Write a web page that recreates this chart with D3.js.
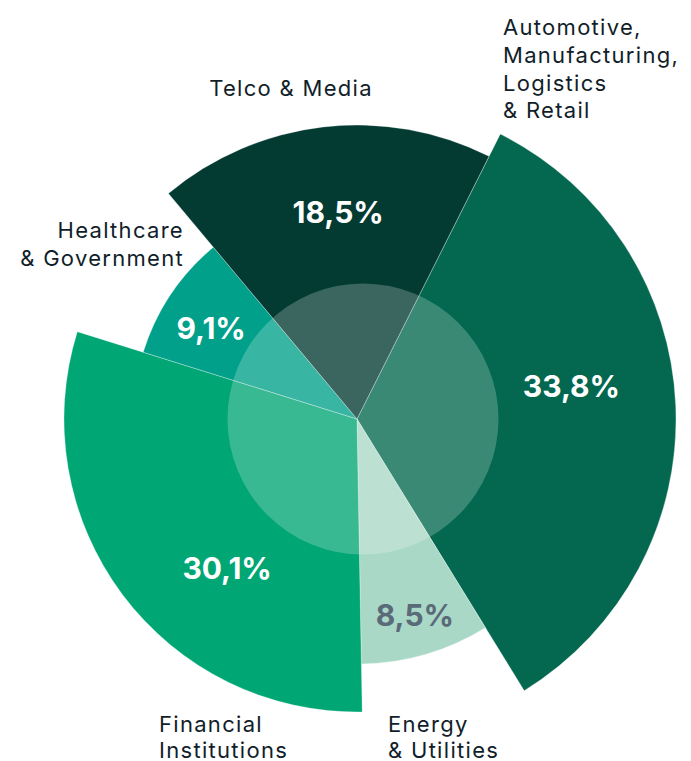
<!DOCTYPE html>
<html>
<head>
<meta charset="utf-8">
<script src="https://cdn.jsdelivr.net/npm/d3@7"></script>
<style>
  html, body { margin: 0; padding: 0; background: #ffffff; }
  svg { display: block; }
</style>
</head>
<body>
<svg id="chart" width="691" height="761"></svg>
<script>
// ---- data ----
const categories = ["Automotive, Manufacturing, Logistics & Retail", "Energy & Utilities", "Financial Institutions", "Healthcare & Government", "Telco & Media"];
const shares = [33.8, 8.5, 30.1, 9.1, 18.5];
const valueLabels = ["33,8%", "8,5%", "30,1%", "9,1%", "18,5%"];
const categoryLines = [
  ["Automotive,", "Manufacturing,", "Logistics", "& Retail"],
  ["Energy", "& Utilities"],
  ["Financial", "Institutions"],
  ["Healthcare", "& Government"],
  ["Telco & Media"]
];

// ---- styling / layout ----
const colors = ["#03684f", "#a9d8c6", "#00a673", "#00a08a", "#033b32"];
const valueColors = ["#ffffff", "#5a6a78", "#ffffff", "#ffffff", "#ffffff"];
const outerR = [319, 245, 293, 224, 294];
const cx = 357, cy = 419;
const startDeg = 26.7;
// value label placement: [angle deg from north, radius]
const valuePos = [[81.2, 217], [163.6, 205], [221, 198], [302, 172], [354.8, 208]];
// category label placement: [x, y of first baseline, anchor, line height]
const catPos = [[503, 35, "start", 27.8], [388, 732, "start", 25.5], [159, 732, "start", 25.5], [184, 238, "end", 27.5], [291, 96, "middle", 27]];

const svg = d3.select("#chart");
const g = svg.append("g").attr("transform", `translate(${cx},${cy})`);

const pie = d3.pie().sort(null).value(d => d)
  .startAngle(startDeg * Math.PI / 180)
  .endAngle((startDeg + 360) * Math.PI / 180);
const arcs = pie(shares);

const arc = d3.arc().innerRadius(0).outerRadius((d, i) => outerR[i]);

g.selectAll("path.slice").data(arcs).join("path")
  .attr("class", "slice")
  .attr("d", (d, i) => arc(d, i))
  .attr("fill", (d, i) => colors[i])
  .attr("stroke", "#ffffff")
  .attr("stroke-width", 0.6)
  .attr("stroke-opacity", 0.5);

// translucent inner circle
svg.append("circle")
  .attr("cx", 363).attr("cy", 419).attr("r", 135.5)
  .attr("fill", "#ffffff").attr("fill-opacity", 0.22);

// value labels
const toXY = (deg, r) => [Math.sin(deg * Math.PI / 180) * r, -Math.cos(deg * Math.PI / 180) * r];
g.selectAll("text.val").data(arcs).join("text")
  .attr("class", "val")
  .attr("x", (d, i) => toXY(valuePos[i][0], valuePos[i][1])[0])
  .attr("y", (d, i) => toXY(valuePos[i][0], valuePos[i][1])[1])
  .attr("dy", "0.36em")
  .attr("text-anchor", "middle")
  .attr("font-family", "Inter, 'Noto Sans', sans-serif")
  .attr("font-weight", 700)
  .attr("font-size", 30)
  .attr("fill", (d, i) => valueColors[i])
  .text((d, i) => valueLabels[i]);

// category labels
categories.forEach((c, i) => {
  const t = svg.append("text")
    .attr("x", catPos[i][0]).attr("y", catPos[i][1])
    .attr("text-anchor", catPos[i][2])
    .attr("font-family", "Inter, 'Noto Sans', sans-serif")
    .attr("font-weight", 400)
    .attr("font-size", 22)
    .attr("letter-spacing", 1.3)
    .attr("fill", "#111e2a");
  categoryLines[i].forEach((ln, j) => {
    t.append("tspan").attr("x", catPos[i][0]).attr("dy", j === 0 ? 0 : catPos[i][3]).text(ln);
  });
});
</script>
</body>
</html>
